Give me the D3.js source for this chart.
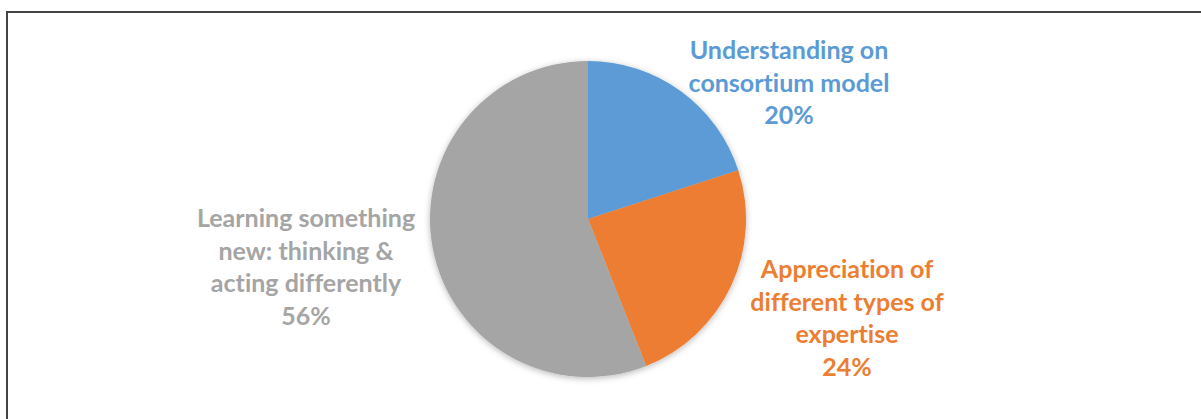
<!DOCTYPE html>
<html>
<head>
<meta charset="utf-8">
<script src="https://cdn.jsdelivr.net/npm/d3@7"></script>
<style>
  html, body { margin: 0; padding: 0; background: #fff; }
  svg { display: block; }
  text { font-variant-ligatures: none; font-feature-settings: "liga" 0; }
</style>
</head>
<body>
<svg id="chart" width="1201" height="419"></svg>
<script>
const categories = [
  "Understanding on consortium model",
  "Appreciation of different types of expertise",
  "Learning something new: thinking & acting differently"
];
const values = [20, 24, 56];
const labelLines = [
  ["Understanding on", "consortium model"],
  ["Appreciation of", "different types of", "expertise"],
  ["Learning something", "new: thinking &", "acting differently"]
];
const colors = ["#5B9BD5", "#ED7D31", "#A5A5A5"];

const W = 1201, H = 419;
const svg = d3.select("#chart");

// border (chart area frame, cropped at right/bottom)
svg.append("rect")
  .attr("x", 7).attr("y", 12)
  .attr("width", W + 20).attr("height", H + 20)
  .attr("fill", "#fff")
  .attr("stroke", "#444").attr("stroke-width", 2);

const defs = svg.append("defs");
const f = defs.append("filter").attr("id", "shadow")
  .attr("x", "-20%").attr("y", "-20%").attr("width", "140%").attr("height", "140%");
f.append("feDropShadow").attr("dx", 0).attr("dy", 1.5)
  .attr("stdDeviation", 3).attr("flood-color", "#000").attr("flood-opacity", 0.28);

const cx = 588, cy = 219, r = 158;
const pie = d3.pie().sort(null).value(d => d)(values);
const arc = d3.arc().innerRadius(0).outerRadius(r);

const g = svg.append("g").attr("transform", `translate(${cx},${cy})`);
g.append("g").attr("filter", "url(#shadow)")
  .selectAll("path").data(pie).join("path")
  .attr("d", arc)
  .attr("fill", (d, i) => colors[i]);

// label positions (centre x, first baseline y)
const labelPos = [
  { x: 789, y: 59 },
  { x: 847, y: 278 },
  { x: 306, y: 227 }
];
const fontFamily = "Lato, 'Open Sans', sans-serif";
const lineH = 32.6;

// fit font size so that the reference line width matches
const probe = svg.append("text")
  .attr("font-family", fontFamily).attr("font-weight", "bold")
  .attr("font-size", 26.7).text("consortium model");
const wProbe = probe.node().getComputedTextLength();
probe.remove();
const fontSize = 26.7 * 201 / wProbe;

const labels = svg.append("g");
pie.forEach((d, i) => {
  const lines = labelLines[i].concat([d3.format(".0f")(values[i]) + "%"]);
  const t = labels.append("text")
    .attr("text-anchor", "middle")
    .attr("font-family", fontFamily)
    .attr("font-weight", "bold")
    .attr("font-size", fontSize)
    .attr("fill", colors[i]);
  lines.forEach((ln, k) => {
    t.append("tspan")
      .attr("x", labelPos[i].x)
      .attr("y", labelPos[i].y + k * lineH)
      .text(ln);
  });
});
</script>
</body>
</html>
